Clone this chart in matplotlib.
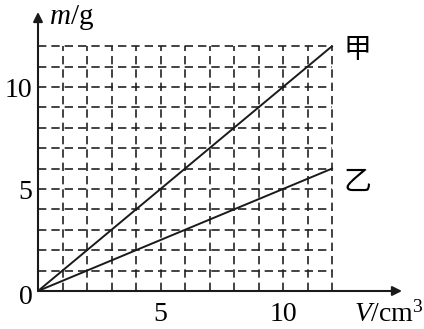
import matplotlib.pyplot as plt
import numpy as np

plt.rcParams['mathtext.fontset'] = 'custom'
plt.rcParams['mathtext.it'] = 'Liberation Serif:italic'
plt.rcParams['mathtext.rm'] = 'Liberation Serif'

# datos
volumen = [0, 12]
masa_jia = [0, 12]
masa_yi = [0, 6]
ticks = [5, 10]
nombres = ['甲', '乙']

serif = 'Liberation Serif'
cjk = 'Noto Sans CJK SC'

fig = plt.figure(figsize=(4.24, 3.29), dpi=100)
W, H = 424, 329
x0, x1 = 38, 402
y0, y1 = 291, 12
ax = fig.add_axes([x0 / W, (H - y0) / H, (x1 - x0) / W, (y0 - y1) / H])

xmax = (x1 - x0) / 24.5
ymax = (y0 - y1) / 20.4
ax.set_xlim(0, xmax)
ax.set_ylim(0, ymax)

# rejilla punteada solo hasta 12
for k in range(1, 13):
    ax.plot([0, 12], [k, k], color='#222222', lw=1.2, ls=(0, (5, 3)), zorder=1)
    ax.plot([k, k], [0, 12], color='#222222', lw=1.2, ls=(0, (5, 3)), zorder=1)

# lineas
ax.plot(volumen, masa_jia, color='#1a1a1a', lw=1.4, zorder=3)
ax.plot(volumen, masa_yi, color='#1a1a1a', lw=1.4, zorder=3)

ax.text(12.45, masa_jia[-1] - 0.2, nombres[0], fontsize=20, family=cjk, va='center', ha='left')
ax.text(12.45, masa_yi[-1] - 0.65, nombres[1], fontsize=20, family=cjk, va='center', ha='left')

# ejes con flecha
for s in ax.spines.values():
    s.set_visible(False)
ax.annotate('', xy=(xmax, 0), xytext=(0, 0),
            arrowprops=dict(arrowstyle='-|>', color='#1a1a1a', lw=1.5, mutation_scale=14, shrinkA=0, shrinkB=0),
            annotation_clip=False)
ax.annotate('', xy=(0, ymax), xytext=(0, 0),
            arrowprops=dict(arrowstyle='-|>', color='#1a1a1a', lw=1.5, mutation_scale=14, shrinkA=0, shrinkB=0),
            annotation_clip=False)

ax.set_xticks(ticks)
ax.set_yticks(ticks)
ax.tick_params(length=0, labelsize=20)
ax.tick_params(axis='x', pad=8)
ax.tick_params(axis='y', pad=4)
for lab in ax.get_xticklabels() + ax.get_yticklabels():
    lab.set_family(serif)

ax.text(-0.2, -0.3, '0', fontsize=20, family=serif, ha='right', va='center')

ax.text(0.45, ymax - 0.25, '$\\mathit{m}$/g', fontsize=21, family=serif, ha='left', va='center')
ax.text(xmax + 0.9, -1.15, '$\\mathit{V}$/cm$^3$', fontsize=20, family=serif, ha='right', va='center')

fig.savefig('out.png', dpi=100)
